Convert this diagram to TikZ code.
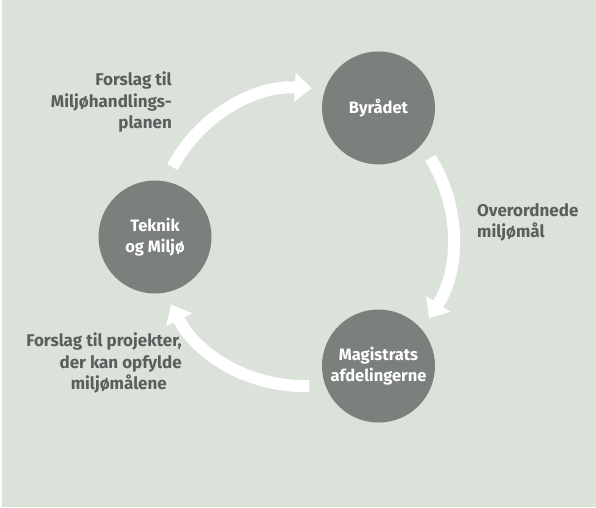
\documentclass[tikz,border=0pt]{standalone}
\usepackage{fontspec}
\setmainfont{Fira Sans}
\usetikzlibrary{positioning,calc,arrows.meta}
\definecolor{bgcol}{HTML}{DBE2DA}
\definecolor{stationcol}{HTML}{7B807D}
\definecolor{notecol}{HTML}{5A5E5C}

\begin{document}
\begin{tikzpicture}[x=1pt,y=1pt,
  station/.style={circle,fill=stationcol,minimum size=113pt,inner sep=0pt,align=center,text=white,font=\fontsize{16.5}{21.5}\selectfont\bfseries},
  note/.style={inner sep=0pt,text=notecol,font=\fontsize{17}{21.5}\selectfont\bfseries},
  flow/.style={white,line width=12pt,-{Triangle[width=28pt,length=17pt]}}]
% background, thin white strip along the left edge
\fill[white] (0,0) rectangle (596,507);
\fill[bgcol] (2,0) rectangle (596,507);
\useasboundingbox (0,0) rectangle (596,507);
% the three stations sit on one circle round (c), radius 149
\coordinate (c) at (304,270);
\node[station] (byr) at ($(c)+(60:149)$) {Byrådet};
\node[station] (mag) at ($(c)+(-60:149)$) {Magistrats\\afdelingerne};
\node[station] (tek) at ($(c)+(180:149)$) {Teknik\\og Miljø};
% clockwise cycle: each arrow leaves 28 deg past its station
\coordinate (tek-out) at ($(c)+(152:149)$);
\coordinate (byr-out) at ($(c)+(32:149)$);
\coordinate (mag-out) at ($(c)+(-88:149)$);
\draw[flow] (tek-out) arc[start angle=152,end angle=87,radius=149];
\draw[flow] (byr-out) arc[start angle=32,end angle=-33,radius=149];
\draw[flow] (mag-out) arc[start angle=-88,end angle=-153,radius=149];
% what passes along each arrow
\node[note,anchor=east,align=right] (forslag) at (172,405) {Forslag til\\Miljøhandlings-\\planen};
\node[note,anchor=west,align=left] (maal) at (477,284.5) {Overordnede\\miljømål};
\node[note,anchor=east,align=right] (projekt) at (182,144) {Forslag til projekter,\\der kan opfylde\hspace*{4pt}\\miljømålene\hspace*{15pt}};
\end{tikzpicture}
\end{document}
